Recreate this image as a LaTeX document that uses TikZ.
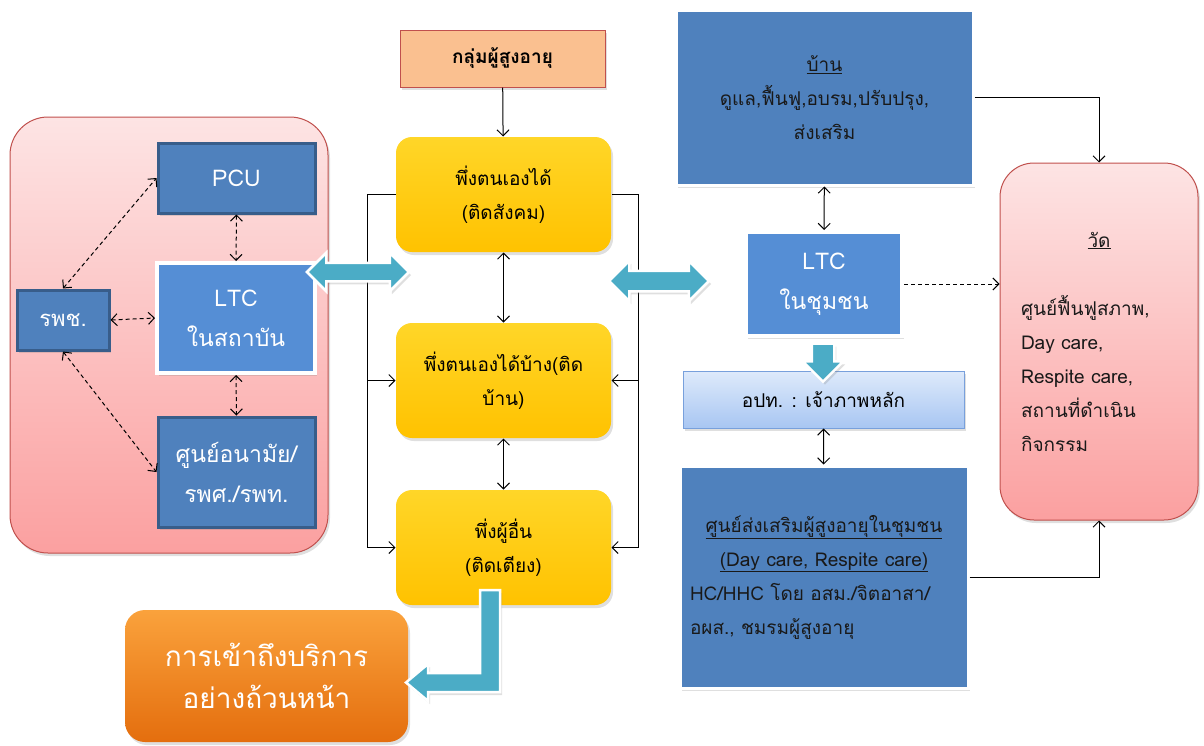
\documentclass[tikz,border=0pt]{standalone}
\usepackage{fontspec}
\setmainfont{Loma}[Script=Thai]
\usetikzlibrary{shapes,arrows,arrows.meta,shadows,calc}

\definecolor{boxblue}{RGB}{79,129,189}
\definecolor{boxline}{RGB}{56,93,138}
\definecolor{ltcblue}{RGB}{85,142,213}
\definecolor{arrowteal}{RGB}{75,172,198}
\definecolor{pinktop}{RGB}{253,228,228}
\definecolor{pinkbot}{RGB}{251,160,160}
\definecolor{pinkline}{RGB}{192,80,77}
\definecolor{peach}{RGB}{250,192,144}
\definecolor{ytop}{RGB}{255,214,40}
\definecolor{ybot}{RGB}{255,194,0}
\definecolor{opttop}{RGB}{222,234,251}
\definecolor{optbot}{RGB}{168,198,242}
\definecolor{optline}{RGB}{120,160,220}
\definecolor{orangetop}{RGB}{250,162,60}
\definecolor{orangebot}{RGB}{228,110,14}
\definecolor{darktext}{RGB}{25,25,25}

\begin{document}
\begin{tikzpicture}[x=1pt,y=-1pt,>={Straight Barb[length=6pt,width=12pt]},line width=1pt]
\tikzstyle{every node}=[inner sep=0pt,align=center,font=\fontsize{19}{34}\selectfont]
\tikzstyle{softshadow}=[drop shadow={opacity=0.25,shadow xshift=2pt,shadow yshift=-3pt}]
\tikzstyle{pinkbox}=[draw=pinkline,line width=1pt,rounded corners=38pt,top color=pinktop,bottom color=pinkbot,softshadow]
\tikzstyle{darkbox}=[draw=boxline,line width=3pt,fill=boxblue,text=white,font=\fontsize{23}{40}\selectfont,softshadow]
\tikzstyle{ltcbox}=[draw=white,line width=4pt,fill=ltcblue,text=white,font=\fontsize{23}{40}\selectfont,softshadow]
\tikzstyle{yellowbox}=[rounded corners=16pt,top color=ytop,bottom color=ybot,minimum width=215pt,minimum height=115pt,softshadow]
\tikzstyle{homebox}=[draw=white,line width=3pt,fill=boxblue,text=darktext,softshadow]
\tikzstyle{fatarrow}=[fill=arrowteal,draw=white,line width=2.5pt,inner xsep=0pt,softshadow]
\tikzstyle{dashlink}=[dash pattern=on 4pt off 3pt]
\useasboundingbox (0,0) rectangle (1204,745);

% hospital side
\node[pinkbox,minimum width=318pt,minimum height=436pt] (hosp) at (169,335) {};
\node[darkbox,minimum width=157pt,minimum height=70pt] (pcu) at (236.5,178) {PCU};
\node[ltcbox,minimum width=158pt,minimum height=110pt] (ltcin) at (236,318) {LTC\\ในสถาบัน};
\node[darkbox,minimum width=92pt,minimum height=60pt,font=\fontsize{22}{30}\selectfont] (rpc) at (63,320) {รพช.};
\node[darkbox,minimum width=157pt,minimum height=110pt] (anamai) at (236.5,472) {ศูนย์อนามัย/\\รพศ./รพท.};

\draw[dashlink,<->] (rpc.north) -- (pcu.west);
\draw[dashlink,<->] (rpc.east) -- (ltcin.west);
\draw[dashlink,<->] (rpc.south) -- (anamai.west);
\draw[dashlink,<->] (pcu.south) -- (ltcin.north);
\draw[dashlink,<->] (ltcin.south) -- (anamai.north);

% elderly groups
\node[draw=pinkline,line width=1pt,fill=peach,minimum width=205pt,minimum height=57pt,font=\bfseries\fontsize{19}{30}\selectfont,softshadow] (elder) at (502.5,58.5) {กลุ่มผู้สูงอายุ};
\node[yellowbox] (self1) at (503.5,194.5) {พึ่งตนเองได้\\(ติดสังคม)};
\node[yellowbox] (self2) at (503.5,380.5) {พึ่งตนเองได้บ้าง(ติด\\บ้าน)};
\node[yellowbox] (self3) at (503.5,547.5) {พึ่งผู้อื่น\\(ติดเตียง)};

\draw[->] (elder) -- (self1);
\draw[<->] (self1) -- (self2);
\draw[<->] (self2) -- (self3);

\coordinate (lb) at ([xshift=-28pt]self1.west);
\coordinate (rb) at ([xshift=27pt]self1.east);
\draw[->] (self1.west) -- (lb) |- (self3.west);
\draw[->] (lb |- self2.west) -- (self2.west);
\draw[->] (self1.east) -- (rb) |- (self3.east);
\draw[->] (rb |- self2.east) -- (self2.east);

% community side
\node[homebox,minimum width=297pt,minimum height=175pt] (home) at (824.5,97.5) {\underline{บ้าน}\\ดูแล,ฟื้นฟู,อบรม,ปรับปรุง,\\ส่งเสริม};
\node[ltcbox,minimum width=156pt,minimum height=104pt] (ltcc) at (824,284) {LTC\\ในชุมชน};
\node[draw=optline,line width=1pt,top color=opttop,bottom color=optbot,minimum width=281pt,minimum height=57pt,softshadow] (opt) at (823.5,399.5) {อปท. : เจ้าภาพหลัก};
\node[homebox,minimum width=288pt,minimum height=222pt,text width=268pt,align=left] (club) at (824,577)
  {\makebox[\linewidth]{\underline{ศูนย์ส่งเสริมผู้สูงอายุในชุมชน}}\\
   \makebox[\linewidth]{\underline{(Day care, Respite care)}}\\
   HC/HHC โดย อสม./จิตอาสา/\\
   อผส., ชมรมผู้สูงอายุ};
\node[pinkbox,rounded corners=34pt,minimum width=198pt,minimum height=357pt,text width=156pt,align=left,text=darktext] (wat) at (1099,341.5)
  {\makebox[\linewidth]{\underline{วัด}}\\[34pt]
   ศูนย์ฟื้นฟูสภาพ,\\
   Day care,\\
   Respite care,\\
   สถานที่ดำเนิน\\
   กิจกรรม};

\draw[<->] (home) -- (ltcc);
\draw[<->] (opt) -- (club);
\draw[dashlink,->] (ltcc.east) -- (ltcc.east -| wat.west);
\draw[->] (home.east) -| (wat.north);
\draw[->] (club.east) -| (wat.south);

% access
\node[rounded corners=20pt,top color=orangetop,bottom color=orangebot,minimum width=283pt,minimum height=132pt,text=white,font=\fontsize{28}{42}\selectfont,softshadow] (access) at (266.5,676) {การเข้าถึงบริการ\\อย่างถ้วนหน้า};

% wide arrows
\node[fatarrow,double arrow,double arrow head extend=10pt,inner ysep=8pt,minimum height=102pt] (linkl) at (358,272) {};
\node[fatarrow,double arrow,double arrow head extend=10pt,inner ysep=9pt,minimum height=100pt] (linkr) at (659,281) {};
\node[fatarrow,single arrow,single arrow head extend=9pt,inner ysep=10pt,minimum height=38pt,rotate=-90] (down) at (823,357) {};
\filldraw[fill=arrowteal,draw=white,line width=2.5pt,softshadow]
  (480,590) -- (500,590) -- (500,692) -- (428,692) -- (428,701) -- (406,682.5)
  -- (428,664) -- (428,673) -- (480,673) -- cycle;
\end{tikzpicture}
\end{document}
